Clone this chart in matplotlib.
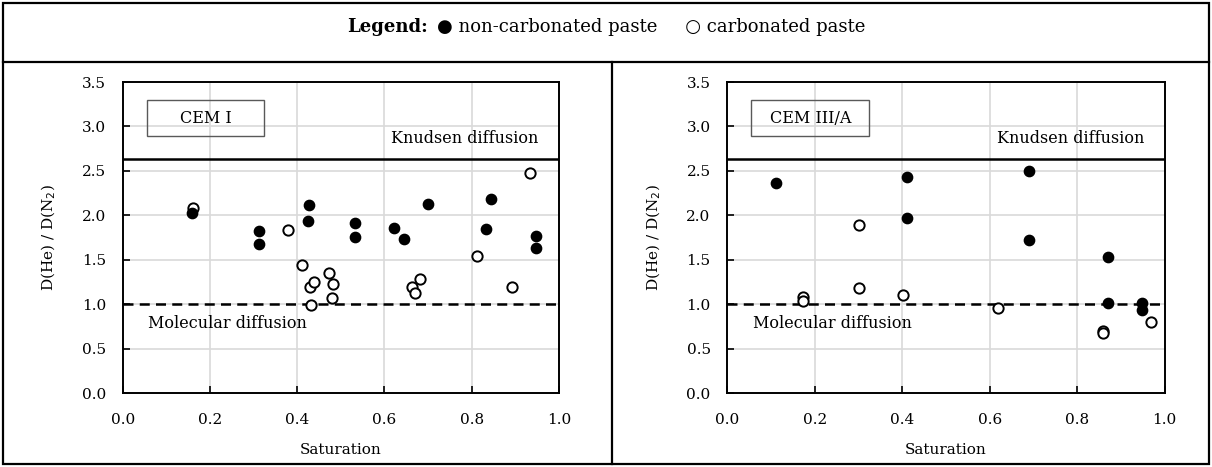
import matplotlib
matplotlib.use("Agg")
import matplotlib.pyplot as plt
from matplotlib.lines import Line2D
from matplotlib.patches import Rectangle
from matplotlib.offsetbox import TextArea, HPacker, AnchoredOffsetbox

plt.rcParams['font.family'] = ['DejaVu Serif']
FS = 11
FS_TXT = 11.5

# ---- data ----
cem1_nc_x = [0.158, 0.312, 0.312, 0.427, 0.425, 0.532, 0.532, 0.621, 0.644, 0.700, 0.833, 0.844, 0.947, 0.948]
cem1_nc_y = [2.03, 1.83, 1.68, 2.12, 1.94, 1.91, 1.76, 1.86, 1.74, 2.13, 1.85, 2.18, 1.77, 1.63]
cem1_c_x = [0.160, 0.379, 0.410, 0.429, 0.438, 0.431, 0.473, 0.483, 0.480, 0.662, 0.670, 0.681, 0.811, 0.892, 0.933]
cem1_c_y = [2.08, 1.84, 1.44, 1.19, 1.25, 0.99, 1.35, 1.23, 1.07, 1.19, 1.13, 1.28, 1.54, 1.20, 2.48]

cem3_nc_x = [0.112, 0.410, 0.410, 0.690, 0.690, 0.870, 0.870, 0.949, 0.949]
cem3_nc_y = [2.36, 2.43, 1.97, 2.50, 1.72, 1.53, 1.01, 1.02, 0.94]
cem3_c_x = [0.172, 0.172, 0.302, 0.302, 0.402, 0.620, 0.860, 0.860, 0.969]
cem3_c_y = [1.085, 1.04, 1.89, 1.18, 1.11, 0.96, 0.70, 0.68, 0.80]

knudsen_level = 2.63
molecular_level = 1.0
x_ticks = [0.0, 0.2, 0.4, 0.6, 0.8, 1.0]
y_ticks = [0.0, 0.5, 1.0, 1.5, 2.0, 2.5, 3.0, 3.5]

W, H = 1212, 467
fig = plt.figure(figsize=(W / 100, H / 100), dpi=100)

def fx(px):
    return px / W

def fy(py):
    return 1 - py / H

# frame lines
lw_frame = 1.6
fig.add_artist(Rectangle((fx(3), fy(464)), fx(1209) - fx(3), fy(3) - fy(464),
                         transform=fig.transFigure, fill=False, lw=lw_frame, ec='black'))
fig.add_artist(Line2D([fx(3), fx(1209)], [fy(62), fy(62)], transform=fig.transFigure, lw=lw_frame, color='black'))
fig.add_artist(Line2D([fx(611.7), fx(611.7)], [fy(62), fy(464)], transform=fig.transFigure, lw=lw_frame, color='black'))

# legend row
parts = [
    TextArea("Legend:", textprops=dict(fontsize=13, fontweight='bold', family='DejaVu Serif')),
    TextArea("\u25CF non-carbonated paste", textprops=dict(fontsize=13, family='DejaVu Serif')),
    TextArea("   \u25CB carbonated paste", textprops=dict(fontsize=13, family='DejaVu Serif')),
]
pack = HPacker(children=parts, align='baseline', pad=0, sep=7)
ab = AnchoredOffsetbox(loc='center', child=pack, frameon=False,
                       bbox_to_anchor=(0.5, fy(27)), bbox_transform=fig.transFigure, borderpad=0, pad=0)
fig.add_artist(ab)

axes_specs = [
    (122.7, 559.0, cem1_nc_x, cem1_nc_y, cem1_c_x, cem1_c_y, "CEM I"),
    (727.3, 1164.7, cem3_nc_x, cem3_nc_y, cem3_c_x, cem3_c_y, "CEM III/A"),
]

top_px, bot_px = 82.0, 393.3
for (l, r, nx, ny, cx, cy, name) in axes_specs:
    ax = fig.add_axes([fx(l), fy(bot_px), fx(r) - fx(l), fy(top_px) - fy(bot_px)])
    ax.set_xlim(0, 1)
    ax.set_ylim(0, 3.5)
    ax.set_xticks(x_ticks)
    ax.set_yticks(y_ticks)
    ax.set_xticklabels([f"{v:.1f}" for v in x_ticks])
    ax.set_yticklabels([f"{v:.1f}" for v in y_ticks])
    ax.grid(True, color='#d9d9d9', lw=1.2, zorder=0)
    ax.set_axisbelow(True)
    ax.tick_params(direction='in', length=5, width=1.2, labelsize=FS)
    ax.tick_params(axis='x', pad=14)
    ax.tick_params(axis='y', pad=12)
    for s in ax.spines.values():
        s.set_linewidth(1.4)
        s.set_color('black')
    ax.axhline(knudsen_level, color='black', lw=1.8, zorder=2)
    ax.axhline(molecular_level, color='black', lw=1.8, ls=(0, (4, 2.5)), zorder=2)
    ax.scatter(cx, cy, s=55, facecolors='white', edgecolors='black', linewidths=1.4, zorder=3)
    ax.scatter(nx, ny, s=55, facecolors='black', edgecolors='black', linewidths=1.0, zorder=4)
    ax.add_patch(Rectangle((0.055, 2.89), 0.27, 0.41, fill=False, ec='#595959', lw=1.0, zorder=5))
    ax.text(0.19, 3.095, name, ha='center', va='center', fontsize=FS_TXT, zorder=6)
    ax.text(0.784, 2.87, "Knudsen diffusion", ha='center', va='center', fontsize=FS_TXT, zorder=6)
    ax.text(0.24, 0.79, "Molecular diffusion", ha='center', va='center', fontsize=FS_TXT, zorder=6)
    ax.set_xlabel("Saturation", fontsize=FS, labelpad=12)
    ax.set_ylabel("D(He) / D(N$_2$)", fontsize=FS, labelpad=17)

fig.savefig("out.png", dpi=100)
